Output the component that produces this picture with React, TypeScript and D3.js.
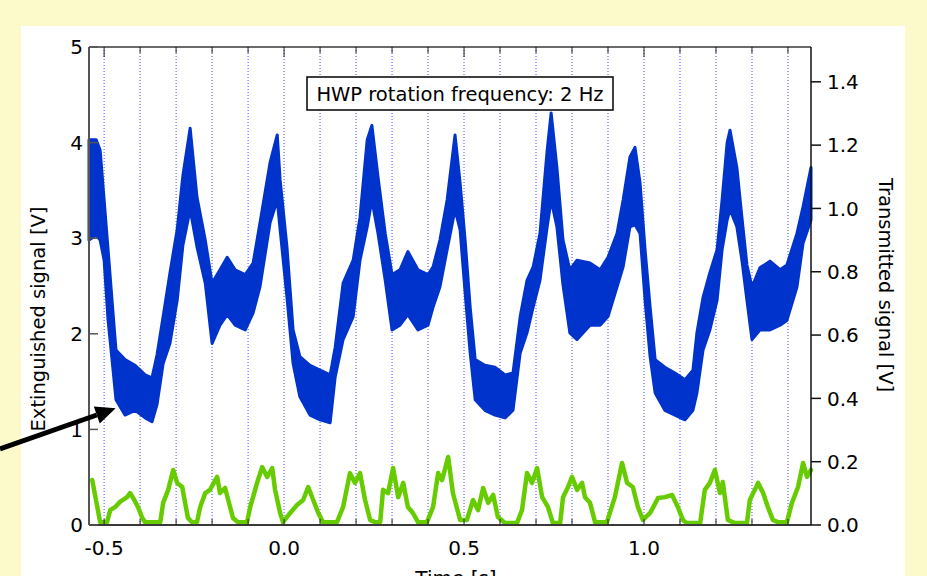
import React, { useEffect } from "react";
import * as d3 from "d3";

// extinguished signal (blue band): time [s], upper and lower edge [V]
const blueTime = [
  -0.542, -0.522, -0.511, -0.5, -0.489, -0.478, -0.467, -0.442, -0.414, -0.386, -0.367, -0.353, -0.336,
  -0.317, -0.297, -0.281, -0.261, -0.242, -0.219, -0.2, -0.178, -0.158, -0.136, -0.108, -0.086, -0.067,
  -0.039, -0.019, -0.011, 0.008, 0.025, 0.044, 0.072, 0.1, 0.128, 0.142, 0.164, 0.192, 0.211, 0.231,
  0.244, 0.261, 0.281, 0.3, 0.322, 0.344, 0.372, 0.4, 0.414, 0.433, 0.453, 0.475, 0.489, 0.503, 0.517,
  0.531, 0.558, 0.586, 0.614, 0.636, 0.656, 0.675, 0.692, 0.711, 0.731, 0.742, 0.758, 0.775, 0.794,
  0.814, 0.85, 0.878, 0.9, 0.925, 0.942, 0.961, 0.975, 0.989, 1.003, 1.017, 1.031, 1.058, 1.086, 1.114,
  1.136, 1.147, 1.164, 1.183, 1.203, 1.217, 1.231, 1.239, 1.258, 1.272, 1.286, 1.3, 1.322, 1.35, 1.378,
  1.397, 1.425, 1.442, 1.464,
];
const blueHigh = [
  4.03, 4.03, 3.92, 3.4, 2.88, 2.35, 1.83, 1.73, 1.67, 1.57, 1.54, 1.78, 2.18,
  2.64, 3.09, 3.66, 4.15, 3.43, 2.98, 2.53, 2.67, 2.8, 2.67, 2.62, 2.74, 3.16,
  3.79, 4.08, 3.61, 2.91, 2.04, 1.76, 1.67, 1.62, 1.57, 1.86, 2.53, 2.77, 3.22, 4.03,
  4.18, 3.64, 3.05, 2.62, 2.67, 2.86, 2.67, 2.62, 2.7, 2.98, 3.4, 4.08, 3.58, 2.98, 2.28,
  1.73, 1.67, 1.65, 1.57, 1.59, 2.18, 2.56, 2.7, 3.05, 3.92, 4.31, 3.74, 2.98, 2.67,
  2.77, 2.74, 2.67, 2.8, 3.05, 3.4, 3.85, 3.95, 3.58, 2.88, 2.28, 1.73, 1.65, 1.59, 1.52,
  1.62, 2.01, 2.38, 2.64, 2.88, 3.4, 4.0, 4.13, 3.74, 3.22, 2.72, 2.49, 2.69, 2.76, 2.67,
  2.72, 3.05, 3.33, 3.74,
];
const blueLow = [
  2.98, 3.03, 2.98, 2.77, 2.14, 1.73, 1.31, 1.15, 1.2, 1.12, 1.08, 1.26, 1.69,
  1.9, 2.35, 2.93, 3.3, 2.91, 2.53, 1.9, 2.09, 2.2, 2.09, 2.04, 2.22, 2.49,
  3.16, 3.4, 3.09, 2.38, 1.69, 1.34, 1.15, 1.1, 1.07, 1.55, 1.94, 2.18, 2.77, 3.12,
  3.4, 3.05, 2.56, 2.04, 2.09, 2.2, 2.04, 2.09, 2.28, 2.49, 2.88, 3.3, 3.09, 2.43, 1.8,
  1.31, 1.2, 1.15, 1.12, 1.2, 1.8, 2.01, 2.28, 2.56, 3.12, 3.4, 3.12, 2.51, 2.01,
  1.94, 2.09, 2.09, 2.18, 2.49, 2.7, 3.12, 3.14, 3.05, 2.35, 1.76, 1.38, 1.2, 1.15, 1.1,
  1.2, 1.38, 1.83, 2.04, 2.35, 2.88, 3.19, 3.3, 3.12, 2.77, 2.35, 1.94, 2.04, 2.04, 2.09,
  2.14, 2.49, 2.95, 3.19,
];

// transmitted signal (green): time [s], value [V]
const greenTime = [
  -0.533, -0.511, -0.492, -0.483, -0.469, -0.456, -0.436, -0.428, -0.419, -0.406, -0.394, -0.386, -0.344,
  -0.336, -0.322, -0.308, -0.297, -0.283, -0.275, -0.267, -0.256, -0.242, -0.233, -0.219, -0.206, -0.186,
  -0.178, -0.164, -0.15, -0.142, -0.128, -0.103, -0.094, -0.075, -0.061, -0.047, -0.033, -0.025, -0.011,
  -0.003, 0.017, 0.036, 0.053, 0.067, 0.081, 0.094, 0.108, 0.147, 0.164, 0.183, 0.197, 0.211, 0.225,
  0.239, 0.253, 0.267, 0.275, 0.289, 0.303, 0.317, 0.331, 0.344, 0.358, 0.372, 0.397, 0.414, 0.428,
  0.439, 0.456, 0.469, 0.489, 0.508, 0.525, 0.539, 0.553, 0.567, 0.581, 0.594, 0.614, 0.647, 0.661,
  0.675, 0.689, 0.703, 0.717, 0.733, 0.747, 0.767, 0.775, 0.789, 0.8, 0.814, 0.828, 0.836, 0.85, 0.864,
  0.897, 0.919, 0.939, 0.953, 0.969, 0.983, 0.997, 1.017, 1.039, 1.058, 1.078, 1.094, 1.108, 1.119,
  1.156, 1.169, 1.183, 1.197, 1.211, 1.219, 1.233, 1.253, 1.286, 1.294, 1.308, 1.317, 1.331, 1.344,
  1.358, 1.372, 1.397, 1.411, 1.428, 1.442, 1.453, 1.464,
];
const greenValue = [
  0.142, 0.009, 0.009, 0.047, 0.057, 0.073, 0.088, 0.101, 0.085, 0.057, 0.022, 0.009, 0.009,
  0.07, 0.111, 0.174, 0.133, 0.12, 0.07, 0.022, 0.009, 0.009, 0.057, 0.101, 0.111, 0.152,
  0.101, 0.117, 0.057, 0.022, 0.009, 0.009, 0.057, 0.133, 0.183, 0.152, 0.18, 0.111, 0.038,
  0.009, 0.038, 0.063, 0.079, 0.12, 0.079, 0.041, 0.009, 0.009, 0.057, 0.164, 0.133, 0.164, 0.079,
  0.016, 0.009, 0.009, 0.111, 0.101, 0.18, 0.088, 0.133, 0.057, 0.038, 0.009, 0.009, 0.057, 0.164,
  0.142, 0.215, 0.101, 0.016, 0.016, 0.079, 0.047, 0.117, 0.07, 0.095, 0.025, 0.006, 0.006, 0.047,
  0.164, 0.133, 0.18, 0.088, 0.057, 0.006, 0.006, 0.088, 0.12, 0.152, 0.111, 0.133, 0.088, 0.07, 0.009,
  0.009, 0.088, 0.196, 0.133, 0.12, 0.057, 0.016, 0.038, 0.085, 0.088, 0.095, 0.057, 0.016, 0.006,
  0.006, 0.111, 0.133, 0.174, 0.101, 0.136, 0.016, 0.006, 0.006, 0.079, 0.111, 0.133, 0.101, 0.057,
  0.016, 0.009, 0.009, 0.07, 0.12, 0.196, 0.152, 0.174,
];

const gridTimes = [-0.5, -0.4, -0.3, -0.2, -0.1, 0, 0.1, 0.2, 0.3, 0.4, 0.5, 0.6, 0.7, 0.8, 0.9, 1.0, 1.1, 1.2, 1.3, 1.4];
const timeLabels = [-0.5, 0, 0.5, 1.0];
const leftTicks = [0, 1, 2, 3, 4, 5];
const rightTicks = [0, 0.2, 0.4, 0.6, 0.8, 1.0, 1.2, 1.4];

const W = 927, H = 576;
const left = 89, right = 811, top = 47, bottom = 525;
const font = "'DejaVu Sans', sans-serif";
const axisColor = "#3a3a3a";

export default function App() {
  useEffect(() => {
    document.body.style.margin = "0";
  }, []);

  const x = d3.scaleLinear().domain([-0.542, 1.464]).range([left, right]);
  const yL = d3.scaleLinear().domain([0, 5]).range([bottom, top]);
  const yR = d3.scaleLinear().domain([0, 1.51]).range([bottom, top]);

  const blueArea = d3
    .area<number>()
    .x((i) => x(blueTime[i]))
    .y0((i) => yL(blueLow[i]))
    .y1((i) => yL(blueHigh[i]));
  const greenLine = d3
    .line<number>()
    .x((i) => x(greenTime[i]))
    .y((i) => yR(greenValue[i]));

  const blueIdx = blueTime.map((_, i) => i);
  const greenIdx = greenTime.map((_, i) => i);

  // arrow pointing at the first minimum of the blue band
  const tipX = x(-0.468), tipY = yL(1.22);
  const tailX = 0, tailY = 449;
  const ang = Math.atan2(tipY - tailY, tipX - tailX);
  const hl = 20, hw = 9;
  const bx = tipX - hl * Math.cos(ang), by = tipY - hl * Math.sin(ang);
  const head = [
    [tipX, tipY],
    [bx + hw * Math.sin(ang), by - hw * Math.cos(ang)],
    [bx - hw * Math.sin(ang), by + hw * Math.cos(ang)],
  ];

  const fmt1 = d3.format(".1f");

  return (
    <svg width={W} height={H} style={{ display: "block" }} fontFamily={font}>
      <rect x={0} y={0} width={W} height={H} fill="#fcf9cb" />
      <rect x={21} y={26} width={884} height={H - 26} fill="#ffffff" />

      {/* dotted vertical grid */}
      {gridTimes.map((t) => (
        <line key={"g" + t} x1={x(t)} x2={x(t)} y1={top} y2={bottom}
          stroke="#4a4aff" strokeWidth={1} strokeDasharray="1,2" />
      ))}

      {/* transmitted signal */}
      <path d={greenLine(greenIdx) || ""} fill="none" stroke="#66cc00" strokeWidth={4.5}
        strokeLinejoin="round" strokeLinecap="round" />

      {/* extinguished signal */}
      <path d={blueArea(blueIdx) || ""} fill="#0033cc" stroke="#0033cc" strokeWidth={3}
        strokeLinejoin="round" />

      {/* frame */}
      <line x1={left} x2={right} y1={top} y2={top} stroke={axisColor} strokeWidth={1.5} />
      <line x1={left} x2={right} y1={bottom} y2={bottom} stroke={axisColor} strokeWidth={2} />
      <line x1={left} x2={left} y1={top} y2={bottom} stroke="#555" strokeWidth={2} />
      <line x1={right} x2={right} y1={top} y2={bottom} stroke="#111" strokeWidth={1.5} />

      {/* time ticks */}
      {gridTimes.map((t) => {
        const major = timeLabels.some((v) => Math.abs(v - t) < 1e-9);
        return (
          <g key={"t" + t}>
            <line x1={x(t)} x2={x(t)} y1={top} y2={top + (major ? 10 : 6)} stroke="#222" strokeWidth={1} />
            <line x1={x(t)} x2={x(t)} y1={bottom} y2={bottom - 6} stroke="#222" strokeWidth={1} />
          </g>
        );
      })}
      {timeLabels.map((t) => (
        <text key={"tl" + t} x={x(t)} y={bottom + 30} textAnchor="middle" fontSize={20} fill="#000">
          {t < 0 ? "-" + fmt1(-t) : fmt1(t)}
        </text>
      ))}

      {/* left axis */}
      {leftTicks.map((v) => (
        <g key={"l" + v}>
          <line x1={left} x2={left + 9} y1={yL(v)} y2={yL(v)} stroke="#555" strokeWidth={1.5} />
          <text x={left - 6} y={yL(v)} dy="0.36em" textAnchor="end" fontSize={20} fill="#000">{v}</text>
        </g>
      ))}

      {/* right axis */}
      {rightTicks.map((v) => (
        <g key={"r" + v}>
          <line x1={right} x2={right + 10} y1={yR(v)} y2={yR(v)} stroke="#111" strokeWidth={1.5} />
          <text x={right + 16} y={yR(v)} dy="0.36em" textAnchor="start" fontSize={20} fill="#000">{fmt1(v)}</text>
        </g>
      ))}

      {/* axis titles */}
      <text transform={`translate(45, 319) rotate(-90)`} textAnchor="middle" fontSize={19.5} fill="#000">
        Extinguished signal [V]
      </text>
      <text transform={`translate(879, 285) rotate(90)`} textAnchor="middle" fontSize={19.5} fill="#000">
        Transmitted signal [V]
      </text>
      <text x={456} y={585} textAnchor="middle" fontSize={20} fill="#000">Time [s]</text>

      {/* annotation */}
      <rect x={307} y={77} width={306} height={33} fill="#fff" stroke="#000" strokeWidth={1.5} />
      <text x={460} y={94} dy="0.36em" textAnchor="middle" fontSize={19.5} fill="#000">
        HWP rotation frequency: 2 Hz
      </text>

      {/* arrow */}
      <line x1={tailX} y1={tailY} x2={bx} y2={by} stroke="#000" strokeWidth={5} />
      <polygon points={head.map((p) => p.join(",")).join(" ")} fill="#000" />
    </svg>
  );
}
